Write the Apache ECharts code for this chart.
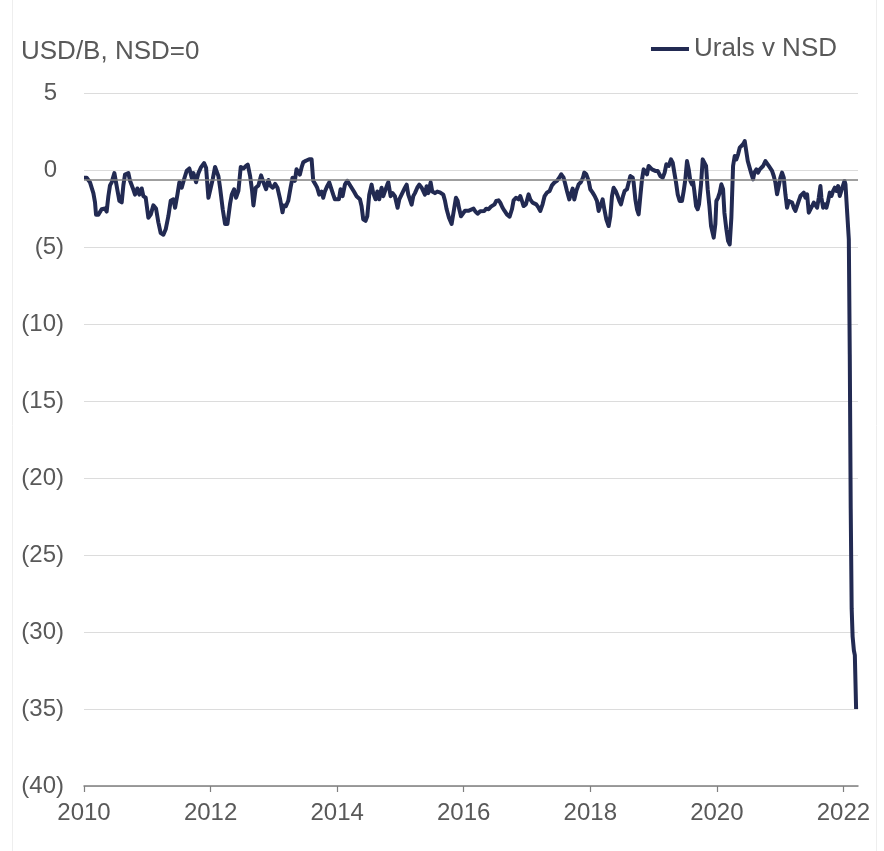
<!DOCTYPE html>
<html>
<head>
<meta charset="utf-8">
<script src="https://cdn.jsdelivr.net/npm/echarts@6/dist/echarts.min.js"></script>
<style>
  html, body { margin: 0; padding: 0; background: #fff; }
  #chart { width: 884px; height: 851px; }
</style>
</head>
<body>
<div id="chart"></div>
<script>
// x = decimal year
const dates = [
  2010.000, 2010.042, 2010.095, 2010.148, 2010.174, 2010.190, 2010.227, 2010.279, 2010.332, 2010.358,
  2010.385, 2010.411, 2010.437, 2010.480, 2010.506, 2010.532, 2010.559, 2010.596, 2010.622, 2010.648,
  2010.701, 2010.727, 2010.769, 2010.806, 2010.843, 2010.875, 2010.912, 2010.938, 2010.975, 2011.017,
  2011.054, 2011.096, 2011.138, 2011.175, 2011.212, 2011.254, 2011.291, 2011.333, 2011.370, 2011.412,
  2011.439, 2011.476, 2011.507, 2011.544, 2011.581, 2011.623, 2011.665, 2011.702, 2011.729, 2011.771,
  2011.808, 2011.845, 2011.897, 2011.929, 2011.966, 2011.992, 2012.034, 2012.071, 2012.097, 2012.124,
  2012.150, 2012.192, 2012.229, 2012.266, 2012.308, 2012.335, 2012.372, 2012.403, 2012.440, 2012.477,
  2012.519, 2012.556, 2012.588, 2012.625, 2012.656, 2012.677, 2012.714, 2012.756, 2012.798, 2012.835,
  2012.877, 2012.914, 2012.941, 2012.983, 2013.020, 2013.057, 2013.099,
  2013.137, 2013.158, 2013.190, 2013.227, 2013.264, 2013.295, 2013.332, 2013.358, 2013.385, 2013.411,
  2013.437, 2013.464, 2013.506, 2013.559, 2013.596, 2013.622, 2013.659, 2013.685, 2013.717, 2013.754,
  2013.780, 2013.806, 2013.843, 2013.875, 2013.902, 2013.938, 2013.964, 2013.991, 2014.028, 2014.054,
  2014.086, 2014.123, 2014.160, 2014.191, 2014.228, 2014.265, 2014.307, 2014.333, 2014.360, 2014.386,
  2014.412, 2014.449, 2014.476, 2014.507, 2014.544, 2014.570, 2014.607, 2014.634, 2014.665, 2014.702,
  2014.729, 2014.755, 2014.792, 2014.808, 2014.845, 2014.877, 2014.913, 2014.955, 2014.982, 2015.018,
  2015.045, 2015.071, 2015.098, 2015.124, 2015.150, 2015.177, 2015.203, 2015.229, 2015.266, 2015.298,
  2015.335, 2015.361, 2015.387, 2015.414, 2015.440, 2015.477, 2015.503, 2015.545, 2015.582, 2015.624,
  2015.651, 2015.677, 2015.704, 2015.730, 2015.767, 2015.809, 2015.835, 2015.851, 2015.877, 2015.904,
  2015.930, 2015.957, 2015.983, 2016.020, 2016.046, 2016.072, 2016.099,
  2016.155, 2016.182, 2016.219, 2016.261, 2016.287, 2016.324, 2016.356, 2016.393, 2016.430, 2016.461,
  2016.487, 2016.514, 2016.551, 2016.577, 2016.614, 2016.646, 2016.682, 2016.725, 2016.762, 2016.788,
  2016.825, 2016.867, 2016.893, 2016.920, 2016.946, 2016.983, 2017.025, 2017.051, 2017.088, 2017.115,
  2017.146, 2017.183, 2017.209, 2017.246, 2017.278, 2017.315, 2017.357, 2017.394, 2017.431, 2017.473,
  2017.510, 2017.541, 2017.578, 2017.605, 2017.631, 2017.668, 2017.700, 2017.721, 2017.747, 2017.779,
  2017.816, 2017.853, 2017.884, 2017.905, 2017.937, 2017.974, 2018.000, 2018.037, 2018.069, 2018.105,
  2018.132, 2018.158, 2018.195, 2018.222, 2018.253, 2018.290, 2018.317, 2018.343, 2018.369, 2018.401,
  2018.433, 2018.459, 2018.485, 2018.517, 2018.543, 2018.580, 2018.606, 2018.633, 2018.670, 2018.685,
  2018.712, 2018.738, 2018.764, 2018.791, 2018.817, 2018.843, 2018.870, 2018.896, 2018.922, 2018.949,
  2018.975, 2019.001,
  2019.028, 2019.065, 2019.107, 2019.144, 2019.175, 2019.201, 2019.238, 2019.275, 2019.302, 2019.328,
  2019.355, 2019.381, 2019.412, 2019.449, 2019.476, 2019.502, 2019.528, 2019.555, 2019.581, 2019.607,
  2019.623, 2019.644, 2019.671, 2019.697, 2019.718, 2019.750, 2019.776, 2019.802, 2019.829, 2019.855,
  2019.882, 2019.908, 2019.950, 2019.976, 2019.992, 2020.019, 2020.045, 2020.071, 2020.098, 2020.119,
  2020.150, 2020.177, 2020.203, 2020.229, 2020.256, 2020.282, 2020.308, 2020.335, 2020.361, 2020.388,
  2020.414, 2020.440, 2020.466, 2020.488, 2020.514, 2020.540, 2020.572, 2020.593, 2020.625, 2020.651,
  2020.678, 2020.704, 2020.730, 2020.767, 2020.793, 2020.820, 2020.846, 2020.872, 2020.899, 2020.925,
  2020.951, 2020.978, 2021.004, 2021.030, 2021.057, 2021.083, 2021.109, 2021.136, 2021.162, 2021.189,
  2021.215, 2021.241, 2021.268, 2021.294, 2021.320, 2021.347, 2021.373, 2021.399, 2021.426, 2021.452,
  2021.478, 2021.505, 2021.531, 2021.557, 2021.584, 2021.610, 2021.636, 2021.652, 2021.679, 2021.705,
  2021.731, 2021.758, 2021.784, 2021.810, 2021.837, 2021.863, 2021.889, 2021.916, 2021.942, 2021.963,
  2021.990, 2022.017, 2022.032, 2022.059, 2022.085, 2022.100, 2022.115, 2022.130, 2022.145, 2022.165,
  2022.180, 2022.200
];

// Urals v NSD, USD/B
const spread = [
  -0.5, -0.5, -0.8, -1.5, -2.1, -2.9, -2.9, -2.55, -2.5, -2.7,
  -1.7, -1.0, -0.8, -0.2, -0.8, -1.4, -2.0, -2.1, -1.0, -0.3,
  -0.2, -0.7, -1.15, -1.6, -1.2, -1.6, -1.2, -1.7, -1.8, -3.1,
  -2.9, -2.3, -2.5, -3.4, -4.1, -4.2, -3.85, -3.0, -2.0, -1.9,
  -2.45, -1.6, -0.8, -1.15, -0.6, -0.05, 0.1, -0.5, -0.2, -0.8,
  -0.2, 0.15, 0.45, 0.15, -1.8, -1.9, -0.6, 0.2, 0.15, -0.4,
  -1.15, -2.55, -3.5, -3.5, -2.2, -1.6, -1.25, -1.8, -1.35, 0.2,
  0.1, 0.25, 0.35, -0.4, -1.35, -2.3, -1.15, -1.0, -0.35, -0.8,
  -1.25, -0.65, -1.0, -1.15, -0.9, -1.15, -1.9,
  -2.75, -2.3, -2.35, -2.0, -1.15, -0.5, -0.7, 0.05, 0.1, -0.3,
  0.15, 0.5, 0.6, 0.7, 0.7, -0.7, -0.95, -1.15, -1.6, -1.4,
  -1.8, -1.4, -1.05, -0.8, -1.15, -1.6, -1.9, -1.8, -1.9, -1.25,
  -1.7, -0.95, -0.7, -0.8, -1.15, -1.4, -1.7, -1.8, -1.9, -2.35,
  -3.2, -3.3, -3.0, -1.6, -0.95, -1.5, -1.9, -1.4, -1.9, -1.15,
  -1.7, -1.6, -0.95, -0.8, -1.7, -1.5, -1.7, -2.45, -1.9, -1.6,
  -1.6, -1.15, -0.95, -1.6, -1.7, -2.25, -1.7, -1.5, -1.15, -0.95,
  -1.15, -1.25, -1.6, -1.05, -1.5, -0.8, -1.4, -1.5, -1.4, -1.45,
  -1.5, -1.6, -2.0, -2.55, -3.1, -3.5, -3.4, -2.45, -1.8, -2.0,
  -2.55, -3.0, -2.9, -2.65, -2.7, -2.65, -2.55,
  -2.51, -2.68, -2.84, -2.68, -2.77, -2.66, -2.51, -2.55, -2.38, -2.38,
  -2.23, -2.01, -1.97, -2.12, -2.45, -2.66, -2.88, -3.03, -2.55, -1.97,
  -1.80, -1.91, -1.69, -2.01, -2.34, -2.23, -1.58, -1.91, -2.12, -2.01,
  -2.23, -2.45, -2.66, -2.23, -1.69, -1.47, -1.36, -1.0, -0.82, -0.71,
  -0.5, -0.28, -0.5, -0.93, -1.36, -1.91, -1.47, -1.21, -1.91, -1.36,
  -0.93, -0.78, -0.5, -0.17, -0.28, -0.71, -1.25, -1.47, -1.69, -2.01,
  -2.66, -2.34, -1.91, -2.55, -3.2, -3.64, -3.0, -1.69, -1.15, -1.36,
  -1.69, -2.01, -2.23, -1.69, -1.36, -1.25, -0.82, -0.39, -0.5, -0.82,
  -1.91, -2.55, -2.88, -1.69, -0.61, 0.04, -0.06, -0.28, 0.26, 0.15,
  0.04, 0.0,
  -0.06, -0.06, -0.39, -0.5, -0.17, 0.37, 0.26, 0.69, 0.48, -0.17,
  -0.82, -1.58, -2.01, -2.01, -1.36, -0.61, 0.58, 0.04, -0.71, -0.93,
  -0.71, -1.36, -2.34, -2.55, -2.23, -0.93, 0.69, 0.8, 0.26, -1.25,
  -2.34, -3.64, -4.39, -3.51, -2.01, -1.8, -1.47, -0.93, -1.25, -2.77,
  -3.85, -4.61, -4.83, -3.1, 0.26, 0.91, 0.69, 1.02, 1.45, 1.56,
  1.67, 1.88, 1.99, 0.58, 0.48, -0.17, -0.61, -0.17, 0.04, -0.17,
  0.04, 0.15, 0.26, 0.58, 0.48, 0.26, 0.15, -0.06, -0.39, -0.82,
  -1.58, -1.04, -0.5, -0.17, -0.5, -1.58, -2.45, -2.01, -1.91, -2.12,
  -2.45, -2.66, -2.55, -2.01, -1.69, -1.58, -1.47, -1.8, -1.58, -2.77,
  -2.55, -2.34, -2.12, -2.01, -2.45, -1.8, -1.04, -1.8, -2.45, -2.23,
  -2.45, -2.01, -1.47, -1.69, -1.36, -1.15, -1.36, -1.04, -1.69, -1.8,
  -1.04, -0.71, -0.93, -2.77, -4.5, -12.0, -22.0, -28.5, -30.3, -31.2,
  -31.5, -35.0
];

const yearTicks = [2010, 2012, 2014, 2016, 2018, 2020, 2022];
const refLevel = -0.65;

const textColor = '#595959';
const lineColor = '#222a52';
const fontFamily = '"Liberation Sans", Arial, Helvetica, sans-serif';

const chart = echarts.init(document.getElementById('chart'));

const option = {
  animation: false,
  backgroundColor: '#fff',
  title: {
    text: 'USD/B, NSD=0',
    left: 21,
    top: 39,
    padding: 0,
    textStyle: { color: textColor, fontSize: 26, fontWeight: 'normal', fontFamily: fontFamily }
  },
  legend: {
    right: 47,
    top: 36,
    padding: 0,
    icon: 'rect',
    itemWidth: 38,
    itemHeight: 4,
    textStyle: { color: textColor, fontSize: 26, fontFamily: fontFamily },
    data: ['Urals v NSD']
  },
  grid: { left: 84, right: 26, top: 93, bottom: 65 },
  xAxis: {
    type: 'value',
    min: 2010,
    max: 2022.23,
    splitLine: { show: false },
    axisLine: { onZero: false, lineStyle: { color: '#7f7f7f', width: 1.5 } },
    axisTick: { show: true, customValues: yearTicks, length: 6, lineStyle: { color: '#7f7f7f', width: 1.2 } },
    axisLabel: {
      customValues: yearTicks,
      margin: 15,
      color: textColor,
      fontSize: 24,
      fontFamily: fontFamily,
      formatter: v => String(Math.round(v))
    }
  },
  yAxis: {
    type: 'value',
    min: -40,
    max: 5,
    interval: 5,
    axisLine: { show: false },
    axisTick: { show: false },
    splitLine: { lineStyle: { color: '#dcdcdc', width: 1 } },
    axisLabel: {
      margin: 20,
      color: textColor,
      fontSize: 24,
      fontFamily: fontFamily,
      formatter: v => v < 0 ? '(' + (-v) + ')' : '{p|' + v + '}',
      rich: { p: { color: textColor, fontSize: 24, fontFamily: fontFamily, padding: [0, 7, 0, 0] } }
    }
  },
  series: [{
    name: 'Urals v NSD',
    type: 'line',
    data: dates.map((d, i) => [d, spread[i]]),
    showSymbol: false,
    symbol: 'none',
    color: lineColor,
    lineStyle: { color: lineColor, width: 4, join: 'round' },
    markLine: {
      silent: true,
      symbol: 'none',
      label: { show: false },
      lineStyle: { color: '#7f7f7f', width: 1.5, type: 'solid' },
      data: [{ yAxis: refLevel }]
    },
    z: 3
  }],
  graphic: [
    { type: 'line', shape: { x1: 12.5, y1: 0, x2: 12.5, y2: 851 }, style: { stroke: '#eeeeee', lineWidth: 1 } },
    { type: 'line', shape: { x1: 876.5, y1: 0, x2: 876.5, y2: 851 }, style: { stroke: '#eeeeee', lineWidth: 1 } }
  ]
};

chart.setOption(option);
</script>
</body>
</html>
